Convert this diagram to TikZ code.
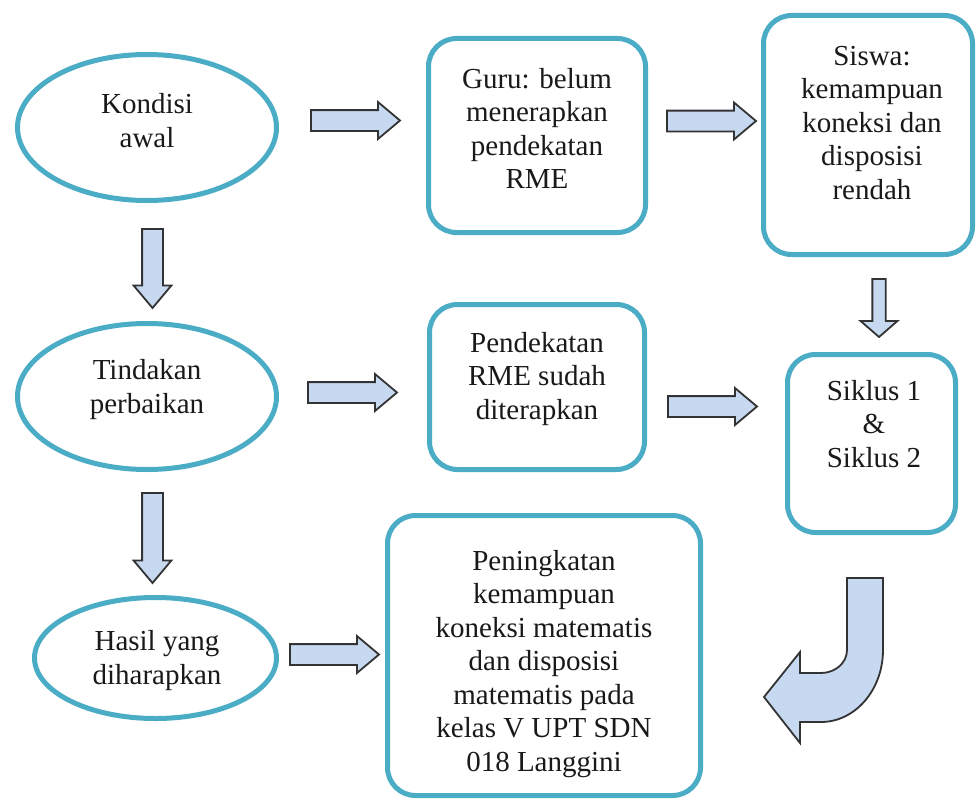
\documentclass[tikz,border=0pt]{standalone}
\usepackage{fontspec}
\setmainfont{Liberation Serif}
\usetikzlibrary{shapes.geometric,shapes.arrows}
\definecolor{bord}{HTML}{4BACC6}
\definecolor{afill}{HTML}{C6D9F1}
\definecolor{aline}{HTML}{333333}
\begin{document}
\begin{tikzpicture}[x=1pt,y=-1pt,
  oval/.style={ellipse, draw=bord, line width=5pt, fill=white, inner sep=0pt},
  rbox/.style={rectangle, rounded corners=28pt, draw=bord, line width=5pt, fill=white, inner sep=0pt},
  txt/.style={align=center, font=\fontsize{29}{33.5}\selectfont, inner sep=0pt, text=black!90},
  barrow/.style={single arrow, draw=aline, fill=afill, line width=1.8pt, inner xsep=0pt, inner ysep=9.5pt,
     outer sep=0pt, anchor=tail, single arrow tip angle=80, single arrow head extend=8pt, minimum height=89pt},
  bshape/.style={draw=aline, fill=afill, line width=1.8pt, line join=miter},
]
\useasboundingbox (0,0) rectangle (976,800);

% ellipses
\node[oval, minimum width=259pt, minimum height=146pt] (kondisi) at (147,127.5) {};
\node[txt] (kondisiT) at (147,124) {\strut Kondisi\\\strut awal};
\node[oval, minimum width=259pt, minimum height=146pt] (tindakan) at (147,396.5) {};
\node[txt] (tindakanT) at (147,390) {\strut Tindakan\\\strut perbaikan};
\node[oval, minimum width=242pt, minimum height=121pt] (hasil) at (155.5,658) {};
\node[txt] (hasilT) at (157,661) {\strut Hasil yang\\\strut diharapkan};

% boxes
\node[rbox, minimum width=217pt, minimum height=194pt] (guru) at (537,135.5) {};
\node[txt] (guruT) at (537,132) {\strut Guru: belum\\\strut menerapkan\\\strut pendekatan\\\strut RME};
\node[rbox, minimum width=209pt, minimum height=239pt] (siswa) at (868,135) {};
\node[txt] (siswaT) at (872,125.5) {\strut Siswa:\\\strut kemampuan\\\strut koneksi dan\\\strut disposisi\\\strut rendah};
\node[rbox, minimum width=215pt, minimum height=165pt] (pendekatan) at (537,387) {};
\node[txt] (pendekatanT) at (537,379) {\strut Pendekatan\\\strut RME sudah\\\strut diterapkan};
\node[rbox, minimum width=168pt, minimum height=178pt] (siklus) at (871.5,443.5) {};
\node[txt] (siklusT) at (874,427) {\strut Siklus 1\\\strut \&\\\strut Siklus 2};
\node[rbox, minimum width=313pt, minimum height=280pt] (peningkatan) at (544,655.5) {};
\node[txt] (peningkatanT) at (544,664) {\strut Peningkatan\\\strut kemampuan\\\strut koneksi matematis\\\strut dan disposisi\\\strut matematis pada\\\strut kelas V UPT SDN\\\strut 018 Langgini};

% block arrows (right), placed by their tails
\node[barrow] (a1) at (311,120.5) {};
\node[barrow] (a2) at (667,121) {};
\node[barrow] (a3) at (308,392.5) {};
\node[barrow] (a4) at (668,406.5) {};
\node[barrow] (a5) at (290,654.5) {};
% block arrows (down)
\node[barrow, rotate=-90, minimum height=79pt, single arrow head extend=8.5pt] (d1) at (152.5,229) {};
\node[barrow, rotate=-90, minimum height=90pt, single arrow head extend=8.5pt] (d2) at (152.5,493) {};
\node[barrow, rotate=-90, minimum height=58pt, inner ysep=5.75pt, single arrow head extend=11.75pt, single arrow tip angle=98] (d3) at (879,279) {};

% curved arrow from Siklus towards Peningkatan
\draw[bshape] (847,578) -- (883,578) -- (883,650)
  .. controls (883,690) and (855,722) .. (821,722)
  -- (800,722) -- (800,743) -- (764,697) -- (800,652) -- (800,673) -- (821,673)
  .. controls (835,673) and (847,663) .. (847,650) -- cycle;
\end{tikzpicture}
\end{document}
